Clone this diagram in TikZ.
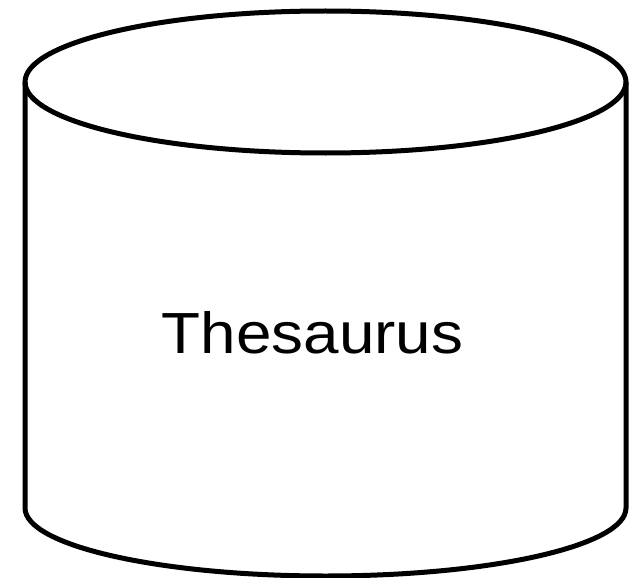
\documentclass[tikz,border=0pt]{standalone}
\usepackage{fontspec}
\setmainfont{Liberation Sans}
\begin{document}
\begin{tikzpicture}[x=1pt,y=-1pt,line width=5pt,
  cyl/.style={draw=black,line join=round}]
\useasboundingbox (0,0) rectangle (635,578);
% body
\draw[cyl] (25,82) -- (25,508) arc[start angle=180,end angle=0,x radius=300.5,y radius=68] -- (626,82);
% top ellipse
\draw[cyl] (325.5,82) ellipse[x radius=300.5,y radius=71];
\node[inner sep=0pt,anchor=base,xscale=1.1,font=\fontsize{58}{58}\selectfont] (label) at (312.5,353) {Thesaurus};
\end{tikzpicture}
\end{document}
